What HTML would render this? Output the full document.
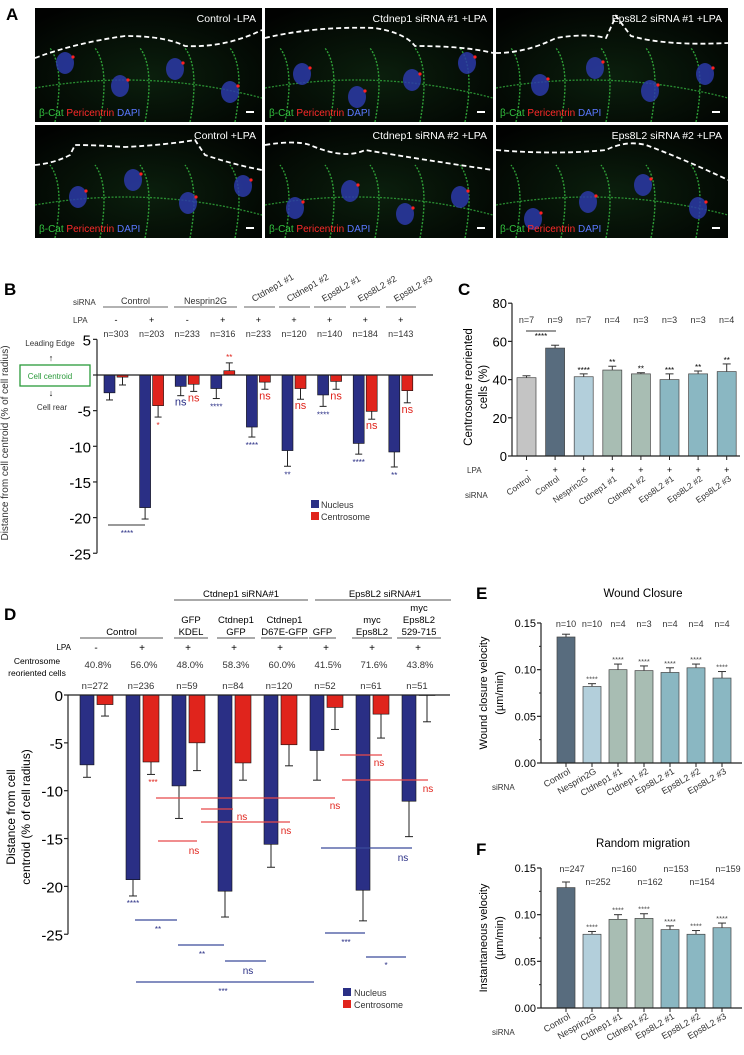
<!DOCTYPE html>
<html><head><meta charset="utf-8">
<style>
html,body{margin:0;padding:0;background:#fff;}
svg{display:block;font-family:"Liberation Sans",Arial,sans-serif;}
</style></head>
<body>
<svg id="fig" width="744" height="1055" viewBox="0 0 744 1055" xmlns="http://www.w3.org/2000/svg">
<defs>
<radialGradient id="cellg" cx="50%" cy="60%" r="70%"><stop offset="0" stop-color="#0b1f0d"/><stop offset="1" stop-color="#010201"/></radialGradient>
</defs>
<g id="panelA"></g>
<g id="panelB"></g>
<g id="panelC"></g>
<g id="panelD"></g>
<g id="panelE"></g>
<g id="panelF"></g>
</svg>
<script>
// ---------- data ----------
const bGroups = ["Control-","Control+","Nesprin2G-","Nesprin2G+","Ctdnep1 #1","Ctdnep1 #2","Eps8L2 #1","Eps8L2 #2","Eps8L2 #3"];
const bNucleus = [-2.5,-18.6,-1.6,-1.9,-7.3,-10.6,-2.8,-9.6,-10.8];
const bNucleusErr = [1.0,1.6,1.3,1.4,1.4,2.2,1.6,1.5,2.1];
const bCentro = [-0.3,-4.3,-1.3,0.6,-1.0,-1.9,-0.9,-5.1,-2.2];
const bCentroErr = [1.1,1.6,1.0,1.1,1.0,1.5,1.1,1.1,1.7];
const bN = ["n=303","n=203","n=233","n=316","n=233","n=120","n=140","n=184","n=143"];
const bLPA = ["-","+","-","+","+","+","+","+","+"];
const bNucSig = ["","","ns","****","****","**","****","****","**"];
const bCenSig = ["","*","ns","**","ns","ns","ns","ns","ns"];
const bTicks = [5,0,-5,-10,-15,-20,-25];

const cCats = ["Control","Control","Nesprin2G","Ctdnep1 #1","Ctdnep1 #2","Eps8L2 #1","Eps8L2 #2","Eps8L2 #3"];
const cVals = [41,56.5,41.5,45,43,40,43,44.2];
const cErr = [1,1.5,1.5,2,0.6,3,1.5,4];
const cN = ["n=7","n=9","n=7","n=4","n=3","n=3","n=3","n=4"];
const cLPA = ["-","+","+","+","+","+","+","+"];
const cSig = ["","","****","**","**","***","**","**"];
const cTicks = [0,20,40,60,80];

const eCats = ["Control","Nesprin2G","Ctdnep1 #1","Ctdnep1 #2","Eps8L2 #1","Eps8L2 #2","Eps8L2 #3"];
const eVals = [0.135,0.082,0.100,0.099,0.097,0.102,0.091];
const eErr = [0.003,0.003,0.006,0.005,0.005,0.004,0.007];
const eN = ["n=10","n=10","n=4","n=3","n=4","n=4","n=4"];
const fVals = [0.129,0.079,0.095,0.096,0.084,0.079,0.086];
const fErr = [0.006,0.003,0.005,0.005,0.004,0.004,0.005];
const fN = ["n=247","n=252","n=160","n=162","n=153","n=154","n=159"];
const vTicks = [0,0.05,0.10,0.15];

const dNucleus = [-7.3,-19.3,-9.5,-20.5,-15.6,-5.8,-20.4,-11.1];
const dNucleusErr = [1.3,1.7,3.4,2.7,2.4,3.1,3.2,3.7];
const dCentro = [-1.0,-7.0,-5.0,-7.1,-5.2,-1.3,-2.0,-0.05];
const dCentroErr = [1.2,1.3,2.9,1.8,2.2,2.3,2.5,2.75];
const dN = ["n=272","n=236","n=59","n=84","n=120","n=52","n=61","n=51"];
const dPct = ["40.8%","56.0%","48.0%","58.3%","60.0%","41.5%","71.6%","43.8%"];
const dLPA = ["-","+","+","+","+","+","+","+"];
const dTicks = [0,-5,-10,-15,-20,-25];

const NS="http://www.w3.org/2000/svg";
function mk(parent,tag,attrs,txt){const e=document.createElementNS(NS,tag);for(const k in attrs)e.setAttribute(k,attrs[k]);if(txt!==undefined)e.textContent=txt;parent.appendChild(e);return e;}
const NAVY="#2a2f85", RED="#e0241c";

// ---------- Panel A ----------
(function(){
  const g=document.getElementById('panelA');
  const t=mk(g,'text',{x:6,y:20,'font-size':17,'font-weight':'bold'},'A');
  
  
  const cols=[[35,227],[265,228],[496,232]], rows=[[8,114],[125,113]];
  const titles=[["Control  -LPA","Ctdnep1 siRNA #1  +LPA","Eps8L2 siRNA #1  +LPA"],["Control  +LPA","Ctdnep1 siRNA #2  +LPA","Eps8L2 siRNA #2  +LPA"]];
  const curves=[["M0 50 Q40 35 90 28 Q130 28 150 38 Q190 40 227 22","M0 30 Q50 18 110 20 Q140 25 150 38 Q200 38 228 45","M0 45 Q30 45 60 30 Q90 25 110 30 L120 8 L135 28 Q170 38 232 35"],
               ["M0 40 Q20 38 35 30 L40 20 Q60 20 90 22 Q130 20 160 15 L170 30 Q200 40 227 45","M0 20 Q30 15 45 20 Q80 35 100 25 Q160 35 228 45","M0 25 Q60 30 110 25 Q130 15 150 20 Q190 35 232 55"]];
  for(let r=0;r<2;r++)for(let c=0;c<3;c++){
    const x=cols[c][0],w=cols[c][1],y=rows[r][0],h=rows[r][1];
    const im=mk(g,'rect',{x:x,y:y,width:w,height:h,fill:'url(#cellg)'});
    
    
    for(let k=0;k<5;k++){mk(g,'path',{d:`M${x+20+k*45} ${y+h} Q${x+30+k*45} ${y+60} ${x+15+k*45} ${y+40}`,stroke:'#36b840','stroke-width':1.4,fill:'none','stroke-dasharray':'2 1.5',opacity:0.85});}
    mk(g,'path',{d:`M${x} ${y+80} Q${x+w/2} ${y+60} ${x+w} ${y+90}`,stroke:'#36b840','stroke-width':1.3,fill:'none','stroke-dasharray':'2 1.5',opacity:0.75});
    for(let k=0;k<4;k++){const nx=x+30+k*55+(r*13+c*7)%20, ny=y+55+((k*23+c*11+r*17)%40);
      mk(g,'ellipse',{cx:nx,cy:ny,rx:9,ry:11,fill:'#2b3aa8',opacity:0.85});
      mk(g,'circle',{cx:nx+8,cy:ny-6,r:1.6,fill:'#ff2020'});}
    mk(g,'path',{d:curves[r][c],transform:`translate(${x},${y})`,stroke:'#fff','stroke-width':1.8,fill:'none','stroke-dasharray':'5 3'});
    const tt=mk(g,'text',{x:x+w-6,y:y+14,'font-size':10.5,fill:'#fff','text-anchor':'end'},titles[r][c]);
    
    
    const lb=mk(g,'text',{x:x+4,y:y+h-6,'font-size':10});
    
    
    mk(lb,'tspan',{fill:'#33c23f'},'β-Cat ');mk(lb,'tspan',{fill:'#ff2a2a'},'Pericentrin ');mk(lb,'tspan',{fill:'#5a78ff'},'DAPI');
    mk(g,'rect',{x:x+w-16,y:y+h-11,width:8,height:2,fill:'#fff'});
  }
})();

// ---------- Panel B ----------
(function(){
  const g=document.getElementById('panelB');
  const y0=375, ppu=7.13, ax=97;
  const Y=v=>y0-v*ppu;
  const gx=i=>104+i*35.6;
  let t=mk(g,'text',{x:4,y:295,'font-size':17,'font-weight':'bold'},'B');
  
  
  mk(g,'line',{x1:ax,y1:Y(5),x2:ax,y2:Y(-25),stroke:'#222','stroke-width':1.2});
  bTicks.forEach(v=>{mk(g,'line',{x1:ax-4,y1:Y(v),x2:ax,y2:Y(v),stroke:'#222','stroke-width':1.2});
    const tl=mk(g,'text',{x:ax-6,y:Y(v)+6,'font-size':15,'text-anchor':'end'},String(v));
    
    });
  const yt=mk(g,'text',{transform:'translate(8,443) rotate(-90)','font-size':10,'text-anchor':'middle',fill:'#333'},'Distance from cell centroid (% of cell radius)');
  
  
  mk(g,'text',{x:50,y:346,'font-size':8,'text-anchor':'middle',fill:'#333'},'Leading Edge');
  mk(g,'text',{x:51,y:361,'font-size':9,'text-anchor':'middle'},'↑');
  const cb=mk(g,'rect',{x:20,y:365,width:70,height:21,fill:'#fff',stroke:'#2a9a3a','stroke-width':1.3});
  
  
  mk(g,'text',{x:50,y:379,'font-size':8,'text-anchor':'middle',fill:'#2a9a3a'},'Cell centroid');
  mk(g,'text',{x:51,y:396,'font-size':9,'text-anchor':'middle'},'↓');
  mk(g,'text',{x:52,y:410,'font-size':8,'text-anchor':'middle',fill:'#333'},'Cell rear');
  mk(g,'text',{x:73,y:305,'font-size':8,fill:'#333'},'siRNA');
  mk(g,'text',{x:73,y:323,'font-size':8,fill:'#333'},'LPA');
  const hdr=[[103,168,'Control',0],[174,237,'Nesprin2G',0],[244,275,'Ctdnep1 #1',1],[279,310,'Ctdnep1 #2',1],[314,346,'Eps8L2 #1',1],[350,380,'Eps8L2 #2',1],[386,416,'Eps8L2 #3',1]];
  hdr.forEach(h=>{mk(g,'line',{x1:h[0],y1:307,x2:h[1],y2:307,stroke:'#666','stroke-width':1});
    let tx;
    if(h[3]) tx=mk(g,'text',{transform:`translate(${h[0]+10},${302}) rotate(-30)`,'font-size':9,fill:'#333'},h[2]);
    else tx=mk(g,'text',{x:(h[0]+h[1])/2,y:304,'font-size':9,'text-anchor':'middle',fill:'#333'},h[2]);
    
    });
  bGroups.forEach((gname,i)=>{
    const x=gx(i);
    mk(g,'text',{x:x+12,y:323,'font-size':9,'text-anchor':'middle'},bLPA[i]);
    const nl=mk(g,'text',{x:x+12,y:337,'font-size':9,'text-anchor':'middle',fill:'#333'},bN[i]);
    
    
    const vN=bNucleus[i], eN=vN-bNucleusErr[i];
    mk(g,'line',{x1:x+5.5,y1:Y(vN),x2:x+5.5,y2:Y(eN),stroke:'#222','stroke-width':1});
    mk(g,'line',{x1:x+2,y1:Y(eN),x2:x+9,y2:Y(eN),stroke:'#222','stroke-width':1});
    const bn=mk(g,'rect',{x:x,y:Math.min(Y(0),Y(vN)),width:11,height:Math.abs(Y(vN)-Y(0)),fill:NAVY,stroke:'#111','stroke-width':0.6});
    
    
    const vC=bCentro[i], eC=vC>0?vC+bCentroErr[i]:vC-bCentroErr[i];
    mk(g,'line',{x1:x+18.5,y1:Y(vC),x2:x+18.5,y2:Y(eC),stroke:'#222','stroke-width':1});
    mk(g,'line',{x1:x+15,y1:Y(eC),x2:x+22,y2:Y(eC),stroke:'#222','stroke-width':1});
    const bc=mk(g,'rect',{x:x+13,y:Math.min(Y(0),Y(vC)),width:11,height:Math.abs(Y(vC)-Y(0)),fill:RED,stroke:'#111','stroke-width':0.6});
    
    
    if(bNucSig[i]){const s=bNucSig[i];const isNs=s==='ns';
      mk(g,'text',{x:x+5.5,y:Y(eN)+(isNs?10:11),'font-size':isNs?11:8,'text-anchor':'middle',fill:NAVY},s);}
    if(bCenSig[i]){const s=bCenSig[i];const isNs=s==='ns';
      const yy=vC>0?Y(eC)-3:Y(eC)+(isNs?10:11);
      mk(g,'text',{x:x+18.5,y:yy,'font-size':isNs?11:8,'text-anchor':'middle',fill:RED},s);}
  });
  mk(g,'line',{x1:ax,y1:Y(0),x2:433,y2:Y(0),stroke:'#222','stroke-width':1.2});
  mk(g,'line',{x1:108,y1:525,x2:145,y2:525,stroke:'#333','stroke-width':1});
  mk(g,'text',{x:127,y:536,'font-size':8,'text-anchor':'middle',fill:NAVY},'****');
  const l1=mk(g,'rect',{x:311,y:500,width:8,height:8,fill:NAVY});
  
  
  mk(g,'text',{x:321,y:508,'font-size':9,fill:'#333'},'Nucleus');
  const l2=mk(g,'rect',{x:311,y:512,width:8,height:8,fill:RED});
  
  
  mk(g,'text',{x:321,y:520,'font-size':9,fill:'#333'},'Centrosome');
})();

// ---------- Panel C ----------
(function(){
  const g=document.getElementById('panelC');
  const ax=512, y0=456, ppu=1.91;
  const Y=v=>y0-v*ppu;
  const colors=["#c4c4c4","#586c7e","#b3cfdb","#a8bdb3","#a8bdb3","#8ab7c2","#8ab7c2","#8ab7c2"];
  let t=mk(g,'text',{x:458,y:295,'font-size':17,'font-weight':'bold'},'C');
  
  
  mk(g,'line',{x1:ax,y1:Y(80),x2:ax,y2:Y(0),stroke:'#222','stroke-width':1.2});
  cTicks.forEach(v=>{mk(g,'line',{x1:ax-4,y1:Y(v),x2:ax,y2:Y(v),stroke:'#222','stroke-width':1.2});
    const tl=mk(g,'text',{x:ax-5,y:Y(v)+5,'font-size':13,'text-anchor':'end'},String(v));
    
    });
  mk(g,'text',{transform:'translate(472,387) rotate(-90)','font-size':11.5,'text-anchor':'middle'},'Centrosome reoriented');
  mk(g,'text',{transform:'translate(487,387) rotate(-90)','font-size':11.5,'text-anchor':'middle'},'cells (%)');
  mk(g,'text',{x:467,y:473,'font-size':8,fill:'#333'},'LPA');
  mk(g,'text',{x:465,y:498,'font-size':8,fill:'#333'},'siRNA');
  cVals.forEach((v,i)=>{
    const x=517+i*28.6, cx=x+9.5;
    mk(g,'line',{x1:cx,y1:Y(v),x2:cx,y2:Y(v+cErr[i]),stroke:'#333','stroke-width':1});
    mk(g,'line',{x1:cx-4,y1:Y(v+cErr[i]),x2:cx+4,y2:Y(v+cErr[i]),stroke:'#333','stroke-width':1});
    const b=mk(g,'rect',{x:x,y:Y(v),width:19,height:Y(0)-Y(v),fill:colors[i],stroke:'#444','stroke-width':0.7});
    
    
    mk(g,'text',{x:cx,y:323,'font-size':9,'text-anchor':'middle',fill:'#333'},cN[i]);
    if(cSig[i])mk(g,'text',{x:cx,y:Y(v+cErr[i])-1,'font-size':8,'text-anchor':'middle'},cSig[i]);
    mk(g,'line',{x1:cx,y1:Y(0),x2:cx,y2:Y(0)+4,stroke:'#222'});
    mk(g,'text',{x:cx,y:473,'font-size':9,'text-anchor':'middle'},cLPA[i]);
    const lb=mk(g,'text',{transform:`translate(${cx+5},${480}) rotate(-35)`,'font-size':8.5,'text-anchor':'end',fill:'#333'},cCats[i]);
    
    
  });
  mk(g,'line',{x1:ax,y1:Y(0),x2:740,y2:Y(0),stroke:'#222','stroke-width':1.2});
  mk(g,'line',{x1:526,y1:331,x2:556,y2:331,stroke:'#333','stroke-width':1});
  mk(g,'text',{x:541,y:339,'font-size':8,'text-anchor':'middle'},'****');
})();

// ---------- Panel D ----------
(function(){
  const g=document.getElementById('panelD');
  const ax=68, y0=695, ppu=9.57;
  const Y=v=>y0-v*ppu;
  const gx=i=>80+i*46;
  let t=mk(g,'text',{x:4,y:620,'font-size':17,'font-weight':'bold'},'D');
  
  
  mk(g,'line',{x1:ax,y1:Y(0),x2:ax,y2:Y(-25),stroke:'#222','stroke-width':1.2});
  dTicks.forEach(v=>{mk(g,'line',{x1:ax-4,y1:Y(v),x2:ax,y2:Y(v),stroke:'#222','stroke-width':1.2});
    const tl=mk(g,'text',{x:ax-5,y:Y(v)+6,'font-size':15,'text-anchor':'end'},String(v));
    
    });
  mk(g,'text',{transform:'translate(15,817) rotate(-90)','font-size':12,'text-anchor':'middle'},'Distance from cell');
  mk(g,'text',{transform:'translate(30,817) rotate(-90)','font-size':12,'text-anchor':'middle'},'centroid (% of cell radius)');
  mk(g,'text',{x:241,y:597,'font-size':9.5,'text-anchor':'middle'},'Ctdnep1 siRNA#1');
  mk(g,'line',{x1:174,y1:600,x2:308,y2:600,stroke:'#555'});
  mk(g,'text',{x:385,y:597,'font-size':9.5,'text-anchor':'middle'},'Eps8L2 siRNA#1');
  mk(g,'line',{x1:315,y1:600,x2:451,y2:600,stroke:'#555'});
  const sub=[[80,163,['Control']],[174,208,['GFP','KDEL']],[217,255,['Ctdnep1','GFP']],[261,308,['Ctdnep1','D67E-GFP']],[309,336,['GFP']],[352,392,['myc','Eps8L2']],[397,441,['myc','Eps8L2','529-715']]];
  sub.forEach(s=>{mk(g,'line',{x1:s[0],y1:638,x2:s[1],y2:638,stroke:'#555'});
    const n=s[2].length;s[2].forEach((w,k)=>{const tx=mk(g,'text',{x:(s[0]+s[1])/2,y:635-(n-1-k)*12,'font-size':9.5,'text-anchor':'middle'},w);
      
      });});
  mk(g,'text',{x:71,y:650,'font-size':8,'text-anchor':'end'},'LPA');
  mk(g,'text',{x:37,y:664,'font-size':8.5,'text-anchor':'middle'},'Centrosome');
  mk(g,'text',{x:37,y:676,'font-size':8.5,'text-anchor':'middle'},'reoriented cells');
  dNucleus.forEach((vN,i)=>{
    const x=gx(i);
    mk(g,'text',{x:x+16,y:651,'font-size':10,'text-anchor':'middle'},dLPA[i]);
    mk(g,'text',{x:x+18,y:668,'font-size':9.5,'text-anchor':'middle',fill:'#333'},dPct[i]);
    const nl=mk(g,'text',{x:x+15,y:689,'font-size':9.5,'text-anchor':'middle',fill:'#333'},dN[i]);
    
    
    const eN=vN-dNucleusErr[i];
    mk(g,'line',{x1:x+7,y1:Y(vN),x2:x+7,y2:Y(eN),stroke:'#222'});
    mk(g,'line',{x1:x+3,y1:Y(eN),x2:x+11,y2:Y(eN),stroke:'#222'});
    const bn=mk(g,'rect',{x:x,y:Y(0),width:14,height:Y(vN)-Y(0),fill:NAVY,stroke:'#111','stroke-width':0.6});
    
    
    const vC=dCentro[i], eC=vC-dCentroErr[i];
    mk(g,'line',{x1:x+25,y1:Y(vC),x2:x+25,y2:Y(eC),stroke:'#222'});
    mk(g,'line',{x1:x+21,y1:Y(eC),x2:x+29,y2:Y(eC),stroke:'#222'});
    const bc=mk(g,'rect',{x:x+17,y:Y(0),width:16,height:Math.max(0,Y(vC)-Y(0)),fill:RED,stroke:'#111','stroke-width':0.6});
    
    
  });
  mk(g,'line',{x1:ax,y1:Y(0),x2:450,y2:Y(0),stroke:'#222','stroke-width':1.2});
  mk(g,'text',{x:153,y:785,'font-size':8,'text-anchor':'middle',fill:RED},'***');
  mk(g,'text',{x:133,y:906,'font-size':8,'text-anchor':'middle',fill:NAVY},'****');
  const red=[[156,335,798,335,805],[201,233,809,242,816],[201,290,822,286,830],[158,197,841,194,850],[340,382,755,379,762],[342,428,780,428,788]];
  red.forEach(r=>{mk(g,'line',{x1:r[0],y1:r[2],x2:r[1],y2:r[2],stroke:'#e8494a','stroke-width':1.3});mk(g,'text',{x:r[3],y:r[4]+4,'font-size':10,'text-anchor':'middle',fill:RED},'ns');});
  const blue=[[135,177,920,158,929,'**'],[178,224,945,202,954,'**'],[225,266,961,248,970,'ns'],[136,314,982,223,991,'***'],[321,412,848,403,857,'ns'],[325,365,933,346,942,'***'],[366,406,957,386,965,'*']];
  blue.forEach(r=>{mk(g,'line',{x1:r[0],y1:r[2],x2:r[1],y2:r[2],stroke:'#3b4b9a','stroke-width':1.2});mk(g,'text',{x:r[3],y:r[4]+(r[5]==='ns'?4:3),'font-size':r[5]==='ns'?10:8,'text-anchor':'middle',fill:NAVY},r[5]);});
  const l1=mk(g,'rect',{x:343,y:988,width:8,height:8,fill:NAVY});
  
  
  mk(g,'text',{x:354,y:996,'font-size':9,fill:'#333'},'Nucleus');
  const l2=mk(g,'rect',{x:343,y:1000,width:8,height:8,fill:RED});
  
  
  mk(g,'text',{x:354,y:1008,'font-size':9,fill:'#333'},'Centrosome');
})();

// ---------- Panels E & F ----------
function velocity(id,label,ly,title,ty,y0,vals,errs,ns,twoRow,lblY,siY,yTitle){
  const g=document.getElementById(id);
  const ax=541, ppu=140/0.15;
  const Y=v=>y0-v*ppu;
  const colors=["#586c7e","#b3cfdb","#a8bdb3","#a8bdb3","#8ab7c2","#8ab7c2","#8ab7c2"];
  let t=mk(g,'text',{x:476,y:ly,'font-size':17,'font-weight':'bold'},label);
  
  
  const tt=mk(g,'text',{x:643,y:ty,'font-size':11.5,'text-anchor':'middle'},title);
  
  
  mk(g,'line',{x1:ax,y1:Y(0.15),x2:ax,y2:Y(0),stroke:'#222','stroke-width':1.2});
  vTicks.forEach(v=>{mk(g,'line',{x1:ax-4,y1:Y(v),x2:ax,y2:Y(v),stroke:'#222','stroke-width':1.2});
    const tl=mk(g,'text',{x:ax-5,y:Y(v)+4,'font-size':11,'text-anchor':'end'},v.toFixed(2));
    
    });
  [0.025,0.075,0.125].forEach(v=>mk(g,'line',{x1:ax-2,y1:Y(v),x2:ax,y2:Y(v),stroke:'#222'}));
  mk(g,'text',{transform:`translate(487,${Y(0.075)}) rotate(-90)`,'font-size':11,'text-anchor':'middle'},yTitle);
  mk(g,'text',{transform:`translate(503,${Y(0.075)}) rotate(-90)`,'font-size':11,'text-anchor':'middle'},'(µm/min)');
  mk(g,'text',{x:492,y:siY,'font-size':8,fill:'#333'},'siRNA');
  vals.forEach((v,i)=>{
    const x=557+i*26, cx=x+9;
    mk(g,'line',{x1:cx,y1:Y(v),x2:cx,y2:Y(v+errs[i]),stroke:'#333'});
    mk(g,'line',{x1:cx-4,y1:Y(v+errs[i]),x2:cx+4,y2:Y(v+errs[i]),stroke:'#333'});
    const b=mk(g,'rect',{x:x,y:Y(v),width:18,height:Y(0)-Y(v),fill:colors[i],stroke:'#444','stroke-width':0.7});
    
    
    if(i>0)mk(g,'text',{x:cx,y:Y(v+errs[i])-2,'font-size':7.5,'text-anchor':'middle',fill:'#444'},'****');
    const ny=twoRow&&(i%2===1)?Y(0.15)+17:Y(0.15)+4;
    mk(g,'text',{x:cx+(twoRow?6:0),y:ny,'font-size':9,'text-anchor':'middle',fill:'#333'},ns[i]);
    mk(g,'line',{x1:cx,y1:Y(0),x2:cx,y2:Y(0)+4,stroke:'#222'});
    const lb=mk(g,'text',{transform:`translate(${cx+5},${lblY}) rotate(-30)`,'font-size':9,'text-anchor':'end',fill:'#333'},eCats[i]);
    
    
  });
  mk(g,'line',{x1:ax,y1:Y(0),x2:742,y2:Y(0),stroke:'#222','stroke-width':1.2});
}
velocity('panelE','E',599,'Wound Closure',597,763,eVals,eErr,eN,false,773,790,'Wound closure velocity');
velocity('panelF','F',855,'Random migration',847,1008,fVals,fErr,fN,true,1018,1035,'Instantaneous velocity');
</script>
</body></html>
